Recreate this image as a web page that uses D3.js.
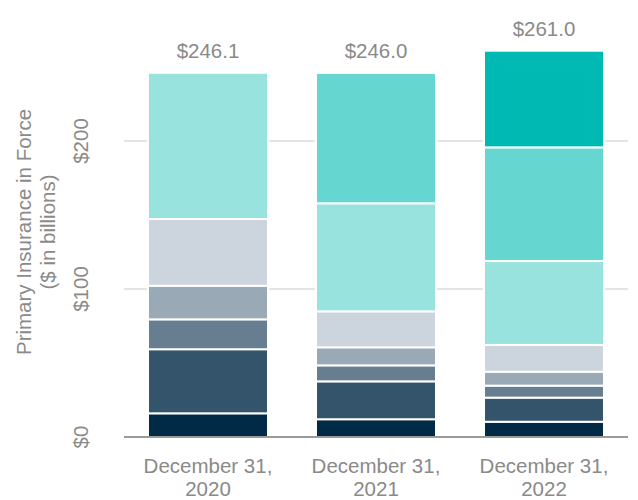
<!DOCTYPE html>
<html>
<head>
<meta charset="utf-8">
<script src="https://cdn.jsdelivr.net/npm/d3@7"></script>
<style>
  html, body { margin: 0; padding: 0; background: #fff; }
  text { font-family: "Liberation Sans", Arial, sans-serif; }
</style>
</head>
<body>
<svg id="chart" width="638" height="500"></svg>
<script>
// Categories (two-line labels)
const categories = ["December 31, 2020", "December 31, 2021", "December 31, 2022"];
const categoryLines = [["December 31,", "2020"], ["December 31,", "2021"], ["December 31,", "2022"]];
const totals = ["$246.1", "$246.0", "$261.0"];

// Series (bottom to top), $ billions
const seriesNames = ["s0", "s1", "s2", "s3", "s4", "s5", "s6", "s7"];
const s0 = [16.0, 12.0, 10.3];
const s1 = [43.3, 25.6, 16.3];
const s2 = [20.2, 10.8, 8.1];
const s3 = [22.7, 12.2, 9.4];
const s4 = [45.1, 24.3, 18.1];
const s5 = [98.8, 73.0, 56.7];
const s6 = [0, 88.1, 76.8];
const s7 = [0, 0, 65.3];
const seriesColors = ["#002a46", "#34546c", "#667e90", "#99a9b5", "#ccd5dd", "#99e3df", "#66d6d0", "#00b9b2"];

const yTicks = [0, 100, 200];
const yTickLabels = ["$0", "$100", "$200"];
const yTitle = ["Primary Insurance in Force", "($ in billions)"];

const allSeries = [s0, s1, s2, s3, s4, s5, s6, s7];
const table = categories.map((c, i) => {
  const row = { cat: c };
  seriesNames.forEach((n, k) => row[n] = allSeries[k][i]);
  return row;
});

const svg = d3.select("#chart");
const gray = "#8a8a8a";
const fs = 20.5;

const x = d3.scaleBand().domain(categories).range([124, 628]).paddingInner(48 / 168).paddingOuter(24 / 168);
const y = d3.scaleLinear().domain([0, 200]).range([437, 141]);

// gridlines
svg.append("g").selectAll("line").data(yTicks.filter(t => t > 0)).join("line")
  .attr("x1", 124).attr("x2", 628)
  .attr("y1", d => y(d)).attr("y2", d => y(d))
  .attr("stroke", "#e4e4e4").attr("stroke-width", 2);

// stacks
const stack = d3.stack().keys(seriesNames)(table);
svg.append("g").selectAll("g").data(stack).join("g")
  .attr("fill", (d, i) => seriesColors[i])
  .selectAll("rect").data(d => d.filter(p => p[1] - p[0] > 0)).join("rect")
  .attr("x", d => x(d.data.cat))
  .attr("width", x.bandwidth())
  .attr("y", d => y(d[1]))
  .attr("height", d => y(d[0]) - y(d[1]))
  .attr("stroke", "#fff").attr("stroke-width", 2);

// baseline
svg.append("line").attr("x1", 124).attr("x2", 628).attr("y1", y(0)).attr("y2", y(0))
  .attr("stroke", "#9a9a9a").attr("stroke-width", 2);

// total labels
const totalVals = categories.map((c, i) => allSeries.reduce((a, s) => a + s[i], 0));
svg.append("g").selectAll("text").data(categories).join("text")
  .attr("x", d => x(d) + x.bandwidth() / 2)
  .attr("y", (d, i) => y(totalVals[i]) - 15)
  .attr("text-anchor", "middle")
  .attr("font-size", fs).attr("fill", gray)
  .text((d, i) => totals[i]);

// x labels
const xl = svg.append("g").selectAll("text").data(categories).join("text")
  .attr("text-anchor", "middle")
  .attr("font-size", fs).attr("fill", gray);
xl.each(function(d, i) {
  const t = d3.select(this);
  categoryLines[i].forEach((line, k) => {
    t.append("tspan").attr("x", x(d) + x.bandwidth() / 2).attr("y", 473 + k * 23).text(line);
  });
});

// y tick labels (rotated)
svg.append("g").selectAll("text").data(yTicks).join("text")
  .attr("transform", d => `translate(88,${y(d)}) rotate(-90)`)
  .attr("text-anchor", "middle")
  .attr("font-size", fs).attr("fill", gray)
  .text((d, i) => yTickLabels[i]);

// y title
const yt = svg.append("text")
  .attr("transform", "translate(0,232) rotate(-90)")
  .attr("text-anchor", "middle")
  .attr("font-size", fs).attr("fill", gray);
yTitle.forEach((line, k) => {
  yt.append("tspan").attr("x", 0).attr("y", 31 + k * 24).text(line);
});
</script>
</body>
</html>
